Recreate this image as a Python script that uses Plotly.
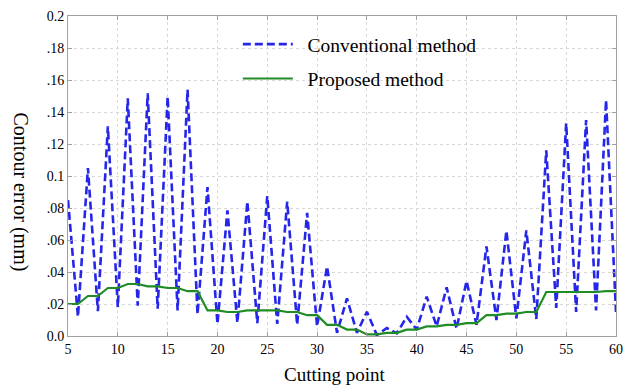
import plotly.graph_objects as go

cutting_points = list(range(5, 61))

conventional = [
    0.085, 0.012, 0.105, 0.0155, 0.131, 0.018, 0.1485, 0.019, 0.1517, 0.017,
    0.1496, 0.016, 0.154, 0.0135, 0.093, 0.0075, 0.0785, 0.0083, 0.084, 0.008,
    0.0875, 0.0075, 0.084, 0.007, 0.077, 0.006, 0.0435, 0.002, 0.0235, 0.002,
    0.0152, 0.0006, 0.005, 0.0017, 0.012, 0.004, 0.0246, 0.006, 0.0304, 0.0045,
    0.0344, 0.007, 0.056, 0.010, 0.0658, 0.011, 0.066, 0.0106, 0.116, 0.0175,
    0.133, 0.015, 0.135, 0.016, 0.1475, 0.015,
]

proposed = [
    0.020, 0.020, 0.025, 0.025, 0.030, 0.030, 0.0325, 0.0325, 0.031, 0.031,
    0.030, 0.030, 0.028, 0.028, 0.016, 0.016, 0.015, 0.015, 0.016, 0.016,
    0.016, 0.016, 0.015, 0.015, 0.013, 0.013, 0.007, 0.007, 0.004, 0.004,
    0.001, 0.001, 0.002, 0.002, 0.004, 0.004, 0.006, 0.006, 0.007, 0.007,
    0.008, 0.008, 0.013, 0.013, 0.014, 0.014, 0.015, 0.015, 0.0275, 0.0275,
    0.0275, 0.0275, 0.0275, 0.0275, 0.028, 0.028,
]

y_tick_vals = [0.0, 0.02, 0.04, 0.06, 0.08, 0.1, 0.12, 0.14, 0.16, 0.18, 0.2]
y_tick_text = ["0.0", ".02", ".04", ".06", ".08", "0.1", ".12", ".14", ".16", ".18", "0.2"]
x_tick_vals = [5, 10, 15, 20, 25, 30, 35, 40, 45, 50, 55, 60]

FONT = "'Liberation Serif', 'Times New Roman', serif"

fig = go.Figure()
fig.add_trace(go.Scatter(
    x=cutting_points, y=conventional, mode="lines",
    name="\u00a0\u00a0Conventional method", legendgroup="a",
    line=dict(color="#2626ea", width=2.6, dash="8px,4px"),
))
fig.add_trace(go.Scatter(
    x=cutting_points, y=proposed, mode="lines",
    name="\u00a0\u00a0Proposed method", legendgroup="b",
    line=dict(color="#1f8c24", width=2.2),
))

axis_common = dict(
    showline=True, linecolor="#a0a0a0", linewidth=1, mirror="ticks",
    ticks="inside", ticklen=4, tickcolor="#a0a0a0",
    showgrid=True, gridcolor="#d8d8d8", gridwidth=1, griddash="dot",
    zeroline=False, tickfont=dict(family=FONT, size=14, color="black"),
)

fig.update_layout(
    width=630, height=387,
    margin=dict(l=68, r=7, t=16, b=51),
    paper_bgcolor="white", plot_bgcolor="white",
    font=dict(family=FONT, color="black"),
    showlegend=True,
    legend=dict(
        x=(240 - 68) / 555, y=0.972, xanchor="left", yanchor="top",
        bgcolor="rgba(255,255,255,0)", borderwidth=0,
        font=dict(family=FONT, size=19.5, color="black"),
        traceorder="grouped", tracegroupgap=6, itemwidth=50,
    ),
    xaxis=dict(range=[5, 60], tickvals=x_tick_vals, **axis_common),
    yaxis=dict(range=[0, 0.2], tickvals=y_tick_vals, ticktext=y_tick_text, **axis_common),
    annotations=[
        dict(text="Cutting point", xref="paper", yref="paper", x=(338.5 - 68) / 555, y=0,
             xanchor="center", yanchor="middle", yshift=-38, showarrow=False,
             font=dict(family=FONT, size=19, color="black")),
        dict(text="Contour error (mm)", xref="paper", yref="paper", x=0, y=(336 - 191.5) / 320,
             xanchor="center", yanchor="middle", xshift=-48, textangle=90, showarrow=False,
             font=dict(family=FONT, size=20, color="black")),
    ],
)

fig.write_html(
    "out.html",
    config={"displayModeBar": False},
    post_script="document.body.style.margin='0';document.body.style.padding='0';",
)
